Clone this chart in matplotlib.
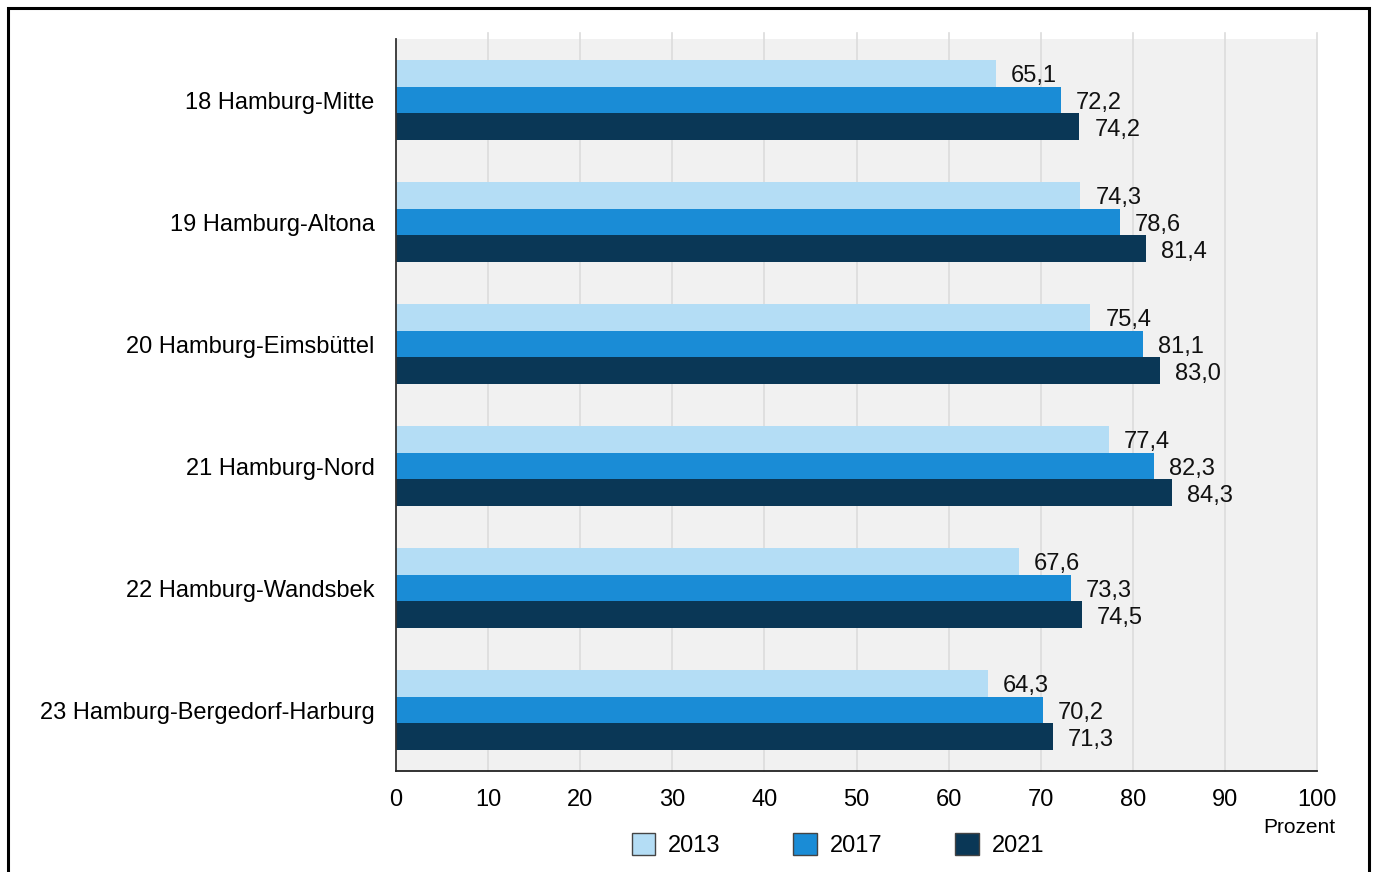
import matplotlib
matplotlib.use("Agg")
import matplotlib.pyplot as plt
from matplotlib.patches import Rectangle, Patch
import numpy as np

plt.rcParams['font.family'] = ['Liberation Sans', 'DejaVu Sans']

categories = ["18 Hamburg-Mitte", "19 Hamburg-Altona", "20 Hamburg-Eimsbüttel",
              "21 Hamburg-Nord", "22 Hamburg-Wandsbek", "23 Hamburg-Bergedorf-Harburg"]
years = ["2013", "2017", "2021"]
v2013 = [65.1, 74.3, 75.4, 77.4, 67.6, 64.3]
v2017 = [72.2, 78.6, 81.1, 82.3, 73.3, 70.2]
v2021 = [74.2, 81.4, 83.0, 84.3, 74.5, 71.3]
xticks = [0, 10, 20, 30, 40, 50, 60, 70, 80, 90, 100]
unit_label = "Prozent"

colors = ["#b4ddf5", "#1a8cd6", "#0a3756"]
FS = 17

W, H = 1375, 872
fig = plt.figure(figsize=(W / 100, H / 100), dpi=100)
ax = fig.add_axes([396 / W, 1 - 771 / H, (1317 - 396) / W, (771 - 39) / H])
ax.set_facecolor("#f1f1f1")

y = np.arange(len(categories))
bh = 0.221
series = [v2013, v2017, v2021]
offsets = [-bh, 0, bh]
for vals, off, col in zip(series, offsets, colors):
    bars = ax.barh(y + off, vals, height=bh, color=col, zorder=3)
    for b, v in zip(bars, vals):
        ax.annotate(f"{v:.1f}".replace(".", ","),
                    xy=(v, b.get_y() + b.get_height() / 2),
                    xytext=(10.8, -0.5), textcoords="offset points",
                    ha="left", va="center_baseline", fontsize=FS, color="#111111", zorder=4)

ax.set_xlim(0, 100)
ax.set_ylim(len(categories) - 0.5, -0.5)

# grid lines extending slightly above the plot area
for xv in xticks[1:]:
    ax.plot([xv, xv], [0, 1.008], transform=ax.get_xaxis_transform(),
            color="#dcdcdc", lw=1.2, zorder=1, clip_on=False)

ax.set_xticks(xticks)
ax.set_xticklabels([str(t) for t in xticks], fontsize=FS)
ax.set_yticks(y)
ax.set_yticklabels(categories, fontsize=FS)
ax.tick_params(axis="both", length=0)
ax.tick_params(axis="x", pad=13)
ax.tick_params(axis="y", pad=15.5)

for s in ["top", "right"]:
    ax.spines[s].set_visible(False)
ax.spines["left"].set_color("#333333")
ax.spines["bottom"].set_color("#222222")
ax.spines["left"].set_linewidth(1.3)
ax.spines["bottom"].set_linewidth(1.3)
ax.spines["left"].set_zorder(5)
ax.spines["bottom"].set_zorder(5)

fig.text(1335 / W, 1 - 827 / H, unit_label, ha="right", va="center", fontsize=15)

handles = [Patch(facecolor=c, edgecolor="#444444", linewidth=1) for c in colors]
fig.legend(handles, years, loc="center", bbox_to_anchor=(838 / W, 1 - 845 / H),
           ncol=3, frameon=False, fontsize=FS, handlelength=1.0, handleheight=1.1,
           handletextpad=0.55, columnspacing=3.08)

# outer frame (open at bottom)
fig.add_artist(Rectangle((8 / W, -0.02), (1369 - 8) / W, (1 - 8 / H) + 0.02,
                         transform=fig.transFigure, fill=False,
                         edgecolor="black", linewidth=2.2, clip_on=False))

fig.savefig("out.png", dpi=100, facecolor="white")
